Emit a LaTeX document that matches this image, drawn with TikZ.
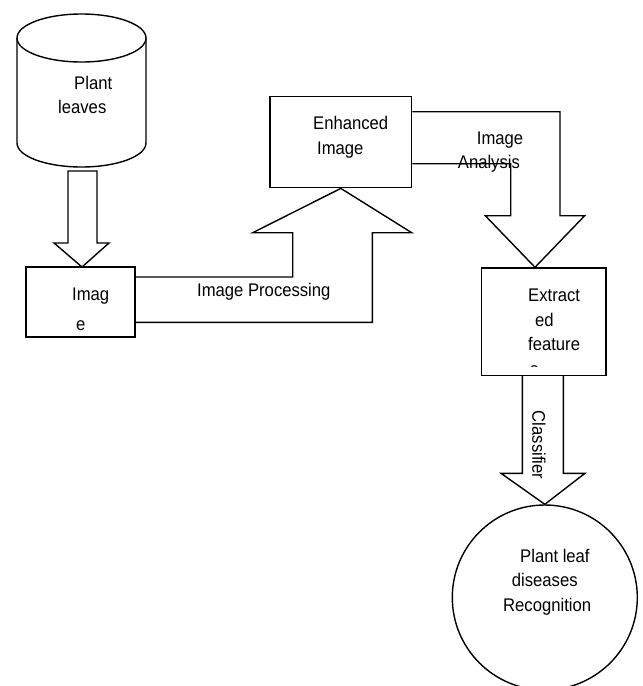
\documentclass[tikz,border=0pt]{standalone}
\usepackage{fontspec}
\setmainfont{Liberation Sans}
\newfontfamily\narrowsans[FakeStretch=0.91]{Liberation Sans}
\begin{document}
\begin{tikzpicture}[x=1pt,y=-1pt,
  shapeline/.style={draw=black,line width=1.4pt,line join=miter},
  boxnode/.style={shapeline,rectangle,inner sep=0pt},
  lbl/.style={inner sep=0pt,anchor=base west,font=\narrowsans\fontsize{18.3}{22}\selectfont},
  blockarrow/.style={shapeline,fill=white}]
\clip (0,0) rectangle (643,686);
\fill[white] (0,0) rectangle (643,686);

% cylinder "Plant leaves"
\draw[shapeline] (17,38) -- (17,143) arc[start angle=180,end angle=0,x radius=64.5,y radius=24] -- (146,38);
\draw[shapeline] (81.5,38) ellipse[x radius=64.5,y radius=24];
\coordinate (cylbottom) at (81.5,167);
\node[lbl] (pl1) at (74,89) {Plant};
\node[lbl] (pl2) at (58,113) {leaves};

% boxes
\node[boxnode,minimum width=109pt,minimum height=70pt] (img) at (80.5,302) {};
\node[boxnode,minimum width=141.7pt,minimum height=91pt] (enh) at (340.85,142.2) {};
\node[boxnode,minimum width=124.7pt,minimum height=107.7pt] (ext) at (543.65,321.85) {};
\node[shapeline,circle,minimum size=185pt,inner sep=0pt] (rec) at (544.8,597.5) {};

% arrow 1: cylinder -> image
\draw[blockarrow] (68,171) -- (97,171) -- (97,243) -- (109,243) -- (82,267) -- (54,243) -- (68,243) -- cycle;

% arrow 2: image processing (bent)
\draw[shapeline] (img.east |- 0,277) -- (292.7,277) -- (292.7,232.7) -- (252.7,232.7)
  -- (enh.south) -- (411.7,232.7) -- (372.3,232.7) -- (372.3,322.3) -- (img.east |- 0,322.3);

% arrow 3: image analysis (bent)
\draw[shapeline] (enh.east |- 0,111.7) -- (560,111.7) -- (560,215.7) -- (584.7,215.7)
  -- (535,267.3) -- (485.3,215.7) -- (510.7,215.7) -- (510.7,163.7) -- (enh.east |- 0,163.7);

% arrow 4: classifier
\draw[shapeline] (522.3,375.7) -- (522.3,473.3) -- (501,473.3) -- (rec.north) -- (585,473.3) -- (563.3,473.3) -- (563.3,375.7);

% labels
\node[lbl] (im1) at (72,300.5) {Imag};
\node[lbl] (im2) at (76,330) {e};
\node[lbl] (en1) at (313,129.7) {Enhanced};
\node[lbl] (en2) at (317,154.7) {Image};
\node[lbl] (ipl) at (197,296.7) {Image Processing};
\node[lbl] (ia1) at (476.7,144.7) {Image};
\node[lbl] (ia2) at (457.7,168) {Analysis};
\node[lbl] (ex1) at (528,301.3) {Extract};
\node[lbl] (ex2) at (535,326.3) {ed};
\node[lbl] (ex3) at (528,350.7) {feature};
\begin{scope}
\clip (482,269) rectangle (605,366);
\node[lbl] (ex4) at (530,375) {s};
\end{scope}
\node[inner sep=0pt,rotate=-90,font=\narrowsans\fontsize{18.3}{22}\selectfont] (cls) at (539,445) {Classifier};
\node[lbl] (rc1) at (520,562.7) {Plant leaf};
\node[lbl] (rc2) at (511.7,586.7) {diseases};
\node[lbl] (rc3) at (503,611) {Recognition};
\end{tikzpicture}
\end{document}
